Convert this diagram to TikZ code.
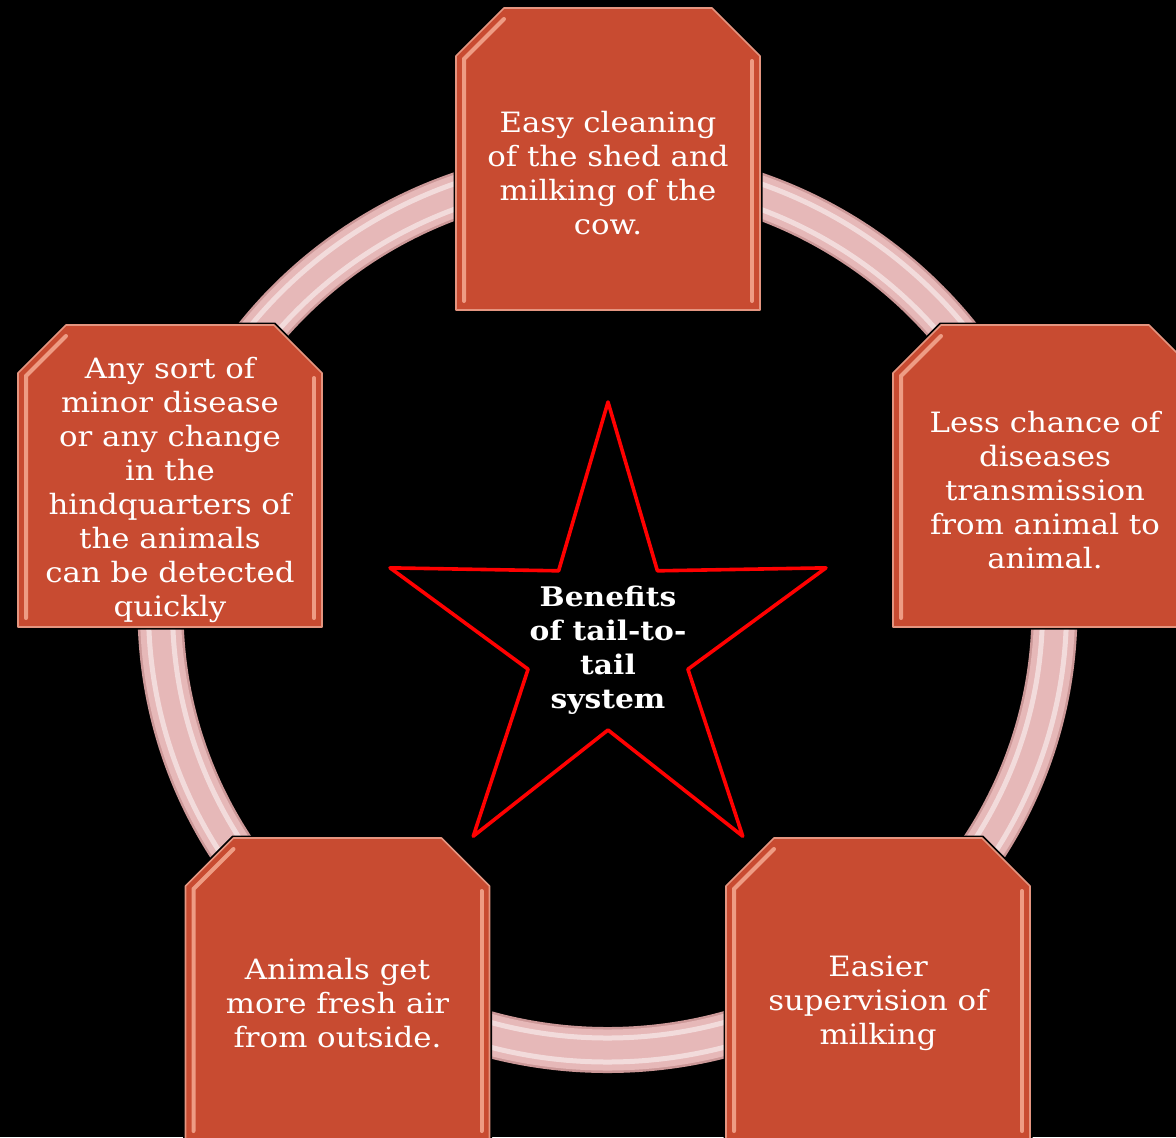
\documentclass[tikz,border=0pt]{standalone}
\usepackage{fontspec}
\setmainfont{DejaVu Serif}[FakeStretch=1.1]
\usetikzlibrary{calc}

\definecolor{boxfill}{HTML}{C84B31}
\definecolor{boxedge}{HTML}{E49580}
\definecolor{boxshine}{HTML}{EE9C84}
\definecolor{ringpink}{HTML}{E6B8B8}
\definecolor{ringdark}{HTML}{CC9898}
\definecolor{starred}{HTML}{FF0000}

\tikzset{
  boxline/.style={fill=boxfill, draw=boxedge, line width=0.8pt, line join=round,
    preaction={draw=black, line width=2.5pt}},
  benefittext/.style={text=white, align=center, font=\fontsize{14pt}{17pt}\selectfont},
  hub/.style={text=white, align=center, font=\bfseries\fontsize{13.5pt}{17pt}\selectfont},
  shine/.style={boxshine, line width=2pt, line cap=round},
}

\begin{document}
\begin{tikzpicture}[x=0.5pt, y=-0.5pt]
  \path[use as bounding box, fill=black] (0,0) rectangle (1176,1137);
  \clip (0,0) rectangle (1176,1137);

  % ring behind the boxes
  \draw[ringdark, line width=23pt] (607.5,610) ellipse [x radius=447, y radius=440];
  \draw[ringpink, line width=20.5pt] (607.5,610) ellipse [x radius=447, y radius=440];
  \foreach \d in {-12,12}
    \draw[white, opacity=0.5, line width=2.5pt] (607.5,610) ellipse [x radius=447+\d, y radius=440+\d];

  % star in the middle
  \draw[starred, line width=1.8pt, line join=round, shift={(608,642)}, xscale=0.955]
    (-90:240) \foreach \i in {1,...,9} { -- ({-90+36*\i}:{240-152*mod(\i,2)}) } -- cycle;
  \node[hub] (hub) at (608,650) {Benefits\\of tail-to-\\tail\\system};

  % the five boxes, top corners cut off
  \foreach \name/\x/\y in {clean/608/159, spread/1045/476, milking/878/989, air/337.5/989, detect/170/476} {
    \coordinate (\name) at (\x,\y);
    \draw[boxline, shift={(\name)}]
      (-152,151) -- (-152,-103) -- (-104,-151) -- (104,-151) -- (152,-103) -- (152,151) -- cycle;
    \draw[shine, shift={(\name)}] (-144,142) -- (-144,-100) -- (-104,-140);
    \draw[shine, shift={(\name)}] (144,-98) -- (144,142);
  }

  \node[benefittext] (cleantext) at ([yshift=-7pt]clean)
    {Easy cleaning\\of the shed and\\milking of the\\cow.};
  \node[benefittext] (spreadtext) at ([yshift=-7pt]spread)
    {Less chance of\\diseases\\transmission\\from animal to\\animal.};
  \node[benefittext] (milkingtext) at ([yshift=-7pt]milking)
    {Easier\\supervision of\\milking};
  \node[benefittext] (airtext) at ([yshift=-7pt]air)
    {Animals get\\more fresh air\\from outside.};
  \node[benefittext] (detecttext) at ([yshift=-7pt]detect)
    {Any sort of\\minor disease\\or any change\\in the\\hindquarters of\\the animals\\can be detected\\quickly};
\end{tikzpicture}
\end{document}
